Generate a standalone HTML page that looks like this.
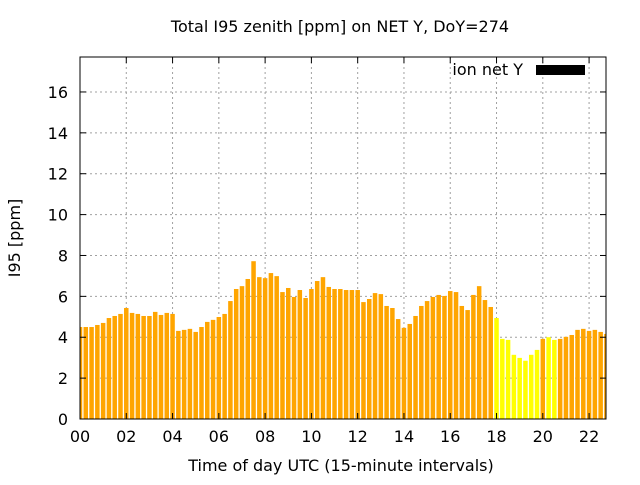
<!DOCTYPE html>
<html><head><meta charset="utf-8"><style>
body{margin:0;background:#fff}
svg{font-family:"DejaVu Sans","Liberation Sans",sans-serif}
</style></head><body>
<svg id="c" width="640" height="480" viewBox="0 0 640 480">
<rect width="640" height="480" fill="#fff"/>
<text x="340" y="32" text-anchor="middle" font-size="16">Total I95 zenith [ppm] on NET Y, DoY=274</text>
<text x="341" y="471" text-anchor="middle" font-size="16">Time of day UTC (15-minute intervals)</text>
<text x="20" y="238" text-anchor="middle" font-size="16" transform="rotate(-90 20 238)">I95 [ppm]</text>
<g id="grid"></g>
<g id="bars"></g>
<g id="axes"></g>
<g>
<text x="523" y="75" text-anchor="end" font-size="16">ion net Y</text>
<rect x="536" y="65" width="49" height="10" fill="#000"/>
</g>
</svg>
<script>
const values=[4.50,4.50,4.50,4.60,4.70,4.94,5.04,5.14,5.43,5.19,5.14,5.04,5.04,5.24,5.09,5.19,5.14,4.31,4.36,4.41,4.26,4.50,4.75,4.85,4.99,5.14,5.77,6.36,6.50,6.85,7.72,6.94,6.89,7.14,6.99,6.21,6.41,5.97,6.31,5.92,6.36,6.75,6.94,6.46,6.36,6.36,
6.31,6.31,6.31,5.72,5.87,6.16,6.11,5.53,5.43,4.89,4.46,4.65,5.04,5.53,5.77,5.97,6.07,6.02,6.26,6.21,5.53,5.33,6.07,6.50,5.82,5.48,4.94,
3.92,3.87,3.14,2.99,2.85,3.14,3.38,3.92,4.00,3.87,3.92,4.02,4.11,4.36,4.41,4.31,4.36,4.26,4.16,4.26];
const flagged=[0,0,0,0,0,0,0,0,0,0,0,0,0,0,0,0,0,0,0,0,0,0,0,0,0,0,0,0,0,0,0,0,0,0,0,0,0,0,0,0,0,0,0,0,0,0,
0,0,0,0,0,0,0,0,0,0,0,0,0,0,0,0,0,0,0,0,0,0,0,0,0,0,
1,1,1,1,1,1,1,1,0,1,1,0,0,0,0,0,0,0,0,0];
const yTicks=[0,2,4,6,8,10,12,14,16];
const xTicks=["00","02","04","06","08","10","12","14","16","18","20","22"];
const L=80,R=606,T=57,B=419,XMAX=(R-L)/23.14,YMAX=(B-T)/20.44;
const NS="http://www.w3.org/2000/svg";
const xs=h=>L+h/XMAX*(R-L), ys=v=>B-v/YMAX*(B-T);
function mk(tag,at,parent){const e=document.createElementNS(NS,tag);for(const k in at)e.setAttribute(k,at[k]);parent.appendChild(e);return e;}
const grid=document.getElementById('grid'),bars=document.getElementById('bars'),axes=document.getElementById('axes');
const svg=document.getElementById('c');
const defs=mk('defs',{},svg);const cp=mk('clipPath',{id:'pc'},defs);mk('rect',{x:L,y:T,width:R-L,height:B-T},cp);
bars.setAttribute('clip-path','url(#pc)');
yTicks.forEach(v=>{const y=ys(v);
 if(v>0){const g=mk('line',{x1:L,x2:R,y1:y,y2:y,stroke:'#a0a0a0','stroke-dasharray':'2,3'},grid);
 
 }
 const t=mk('text',{x:L-12,y:y+6,'text-anchor':'end','font-size':'16'},axes);t.textContent=v;
 
 
 mk('line',{x1:L,x2:L+6,y1:y,y2:y,stroke:'#000'},axes);
 mk('line',{x1:R,x2:R-6,y1:y,y2:y,stroke:'#000'},axes);
});
xTicks.forEach(s=>{const x=xs(parseInt(s,10));
 if(x>L+1){const g=mk('line',{x1:x,x2:x,y1:T,y2:B,stroke:'#a0a0a0','stroke-dasharray':'2,3'},grid);
 
 }
 const t=mk('text',{x:x,y:B+23,'text-anchor':'middle','font-size':'16'},axes);t.textContent=s;
 
 
 mk('line',{x1:x,x2:x,y1:B,y2:B-6,stroke:'#000'},axes);
 mk('line',{x1:x,x2:x,y1:T,y2:T+6,stroke:'#000'},axes);
});
const bw=4.5;
values.forEach((v,i)=>{const cx=xs(i*0.25);
 const r=mk('rect',{x:cx-bw/2,y:ys(v),width:bw,height:B-ys(v),fill:flagged[i]?'#ffff00':'#ffa500'},bars);
 
 
});
const fr=mk('rect',{x:L,y:T,width:R-L,height:B-T,fill:'none',stroke:'#000'},axes);


</script>
</body></html>
